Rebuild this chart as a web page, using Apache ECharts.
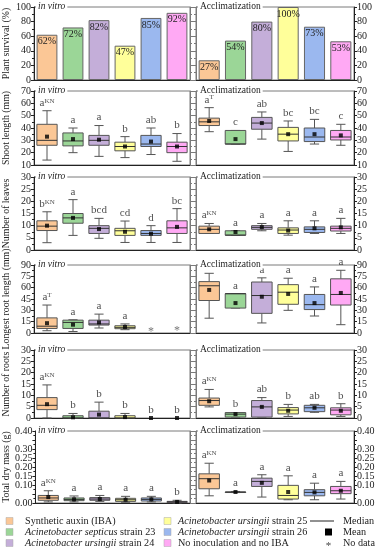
<!DOCTYPE html>
<html><head><meta charset="utf-8">
<script src="https://cdn.jsdelivr.net/npm/echarts@6/dist/echarts.min.js"></script>
<style>html,body{margin:0;padding:0;background:#fff}#c{width:379px;height:550px}</style>
</head><body><div id="c"></div>
<script>
// ---------- DATA ----------
const treatments = ['Synthetic auxin (IBA)', 'Acinetobacter septicus strain 23', 'Acinetobacter ursingii strain 24',
  'Acinetobacter ursingii strain 25', 'Acinetobacter ursingii strain 26', 'No inoculation and no IBA'];
const colors = ['#FBC796', '#9BD697', '#C4AED9', '#FFFF9A', '#9BB8EF', '#FFA9F4'];
const yTitles = ['Plant survival (%)', 'Shoot length (mm)', 'Number of leaves', 'Longest root length (mm)', 'Number of roots', 'Total dry mass (g)'];
const panelTitles = ['in vitro', 'Acclimatization'];

// Plant survival (%)
const survivalInVitro = [62, 72, 82, 47, 85, 92];
const survivalAcclim = [27, 54, 80, 100, 73, 53];

// box data: [min, Q1, median, Q3, max]
const shootInVitroBox = [[14, 26, 30, 43, 54], [20, 25.5, 29.5, 36, 40], [17, 26, 30, 34, 42], [16, 21.5, 25, 28.5, 33], [18.5, 25, 27, 34, 40], [13, 20, 25, 28.5, 35.5]];
const shootInVitroMean = [33, 31, 30.5, 25, 29, 25];
const shootInVitroLetters = ['a^KN', 'a', 'a', 'b', 'ab', 'b'];
const shootAcclimBox = [[37, 42, 45, 48, 56.5], [27, 27, 27, 38, 38], [31, 39, 44, 48.6, 53], [21, 29.5, 35, 40.5, 45.7], [27, 29, 32.7, 40, 47], [26, 30.3, 32.7, 38, 43]];
const shootAcclimMean = [45.7, 31, 44, 35, 35, 34];
const shootAcclimLetters = ['a^T', 'c', 'ab', 'bc', 'bc', 'c'];

const leavesInVitroBox = [[3, 8, 9.8, 12, 15.7], [6, 11, 13.2, 15, 20.7], [4.8, 6.8, 8.9, 10, 13], [3.1, 6, 7.9, 8.9, 11.9], [3.1, 6, 6.8, 8, 10], [3.1, 6.8, 9.1, 12, 17]];
const leavesInVitroMean = [10, 13.2, 8.6, 7.5, 6.7, 9.5];
const leavesInVitroLetters = ['b^KN', 'a', 'bcd', 'cd', 'd', 'bc'];
const leavesAcclimBox = [[6.8, 6.8, 8.5, 9.8, 10.9], [6.1, 6.1, 6.1, 7.9, 7.9], [7.9, 8.5, 9.3, 10, 10.9], [6.1, 6.8, 8.2, 9.1, 12], [6.8, 7.2, 8.5, 9.5, 12], [6.8, 7.8, 8.9, 9.8, 13]];
const leavesAcclimMean = [8.5, 7.4, 9.4, 8, 8.9, 9.3];
const leavesAcclimLetters = ['a^KN', 'a', 'a', 'a', 'a', 'a'];

const rootLenInVitroBox = [[3, 6, 9, 20, 37], [2, 6, 14, 17, 17.5], [6.6, 10.5, 12, 17, 25], [4.4, 5.7, 7.5, 9.6, 12], null, null];
const rootLenInVitroMean = [13, 11, 14, 8, null, null];
const rootLenInVitroLetters = ['a^T', 'a', 'a', 'a', '', ''];
const rootLenInVitroNoData = [null, null, null, null, 6, 7];
const rootLenAcclimBox = [[19.6, 43, 62.5, 68, 79], [33, 33, 52, 52, 52], [13.3, 26, 49.6, 67.5, 73], [30, 38, 54, 64, 72.5], [22.5, 31, 37.5, 51, 61], [11, 37, 51, 71.7, 83]];
const rootLenAcclimMean = [57, 39.6, 48, 51.7, 39.6, 53];
const rootLenAcclimLetters = ['a^T', 'a', 'a', 'a', 'a', 'a'];

const rootsInVitroBox = [[0, 3.7, 5.6, 9, 14.6], [0, 0, 0, 1, 2], [0, 0, 0, 3, 7], [0, 0, 0, 1, 2], null, null];
const rootsInVitroMean = [6.1, 0.3, 1.5, 0.4, 0, 0];
const rootsInVitroLetters = ['a^KN', 'b', 'b', 'b', 'b', 'b'];
const rootsAcclimBox = [[4.9, 5.6, 7.7, 8.8, 12.6], [0.4, 0.4, 1.7, 2.4, 2.4], [0.4, 0.4, 4.9, 7.7, 9], [0.7, 1.8, 3.5, 4.6, 6], [2.5, 2.8, 4.5, 5.6, 6], [0.7, 1.4, 3.5, 4.5, 6.3]];
const rootsAcclimMean = [7.4, 1.7, 4.9, 3.2, 4.5, 3.2];
const rootsAcclimLetters = ['a^KN', 'b', 'ab', 'b', 'ab', 'b'];

const massInVitroBox = [[0.006, 0.015, 0.028, 0.042, 0.068], [0.006, 0.013, 0.02, 0.028, 0.039], [0.009, 0.015, 0.022, 0.03, 0.042], [0.004, 0.009, 0.018, 0.026, 0.037], [0.006, 0.011, 0.02, 0.028, 0.037], [0, 0.002, 0.006, 0.009, 0.015]];
const massInVitroMean = [0.033, 0.02, 0.022, 0.018, 0.02, 0.006];
const massInVitroLetters = ['a^KN', 'a', 'a', 'a', 'a', 'b'];
const massAcclimBox = [[0.04, 0.079, 0.135, 0.162, 0.221], [0.058, 0.061, 0.061, 0.061, 0.064], [0.033, 0.092, 0.12, 0.138, 0.157], [0.018, 0.022, 0.042, 0.098, 0.151], [0.018, 0.04, 0.059, 0.074, 0.11], [0.022, 0.052, 0.068, 0.092, 0.12]];
const massAcclimMean = [0.125, 0.061, 0.112, 0.061, 0.059, 0.068];
const massAcclimLetters = ['a^KN', 'a', 'a', 'a', 'a', 'a'];

const yMins = [0, 10, 0, 0, 0, 0];
const yMaxs = [100, 70, 30, 90, 30, 0.4];
const yIntervals = [20, 10, 5, 15, 5, 0.05];
const yDecimals = [0, 0, 0, 0, 0, 2];

// ---------- LAYOUT ----------
const FONT = 'Liberation Serif';
const rowTops = [7, 91, 177, 265, 350, 431];
const rowBottoms = [80, 165, 250, 333, 418, 503];
const colLeft = [33, 196];
const colWidth = [157, 158];

const rows = [
  { kind: 'bar', L: { bar: survivalInVitro }, R: { bar: survivalAcclim } },
  { kind: 'box', L: { box: shootInVitroBox, mean: shootInVitroMean, letters: shootInVitroLetters }, R: { box: shootAcclimBox, mean: shootAcclimMean, letters: shootAcclimLetters } },
  { kind: 'box', L: { box: leavesInVitroBox, mean: leavesInVitroMean, letters: leavesInVitroLetters }, R: { box: leavesAcclimBox, mean: leavesAcclimMean, letters: leavesAcclimLetters } },
  { kind: 'box', L: { box: rootLenInVitroBox, mean: rootLenInVitroMean, letters: rootLenInVitroLetters, nodata: rootLenInVitroNoData }, R: { box: rootLenAcclimBox, mean: rootLenAcclimMean, letters: rootLenAcclimLetters } },
  { kind: 'box', L: { box: rootsInVitroBox, mean: rootsInVitroMean, letters: rootsInVitroLetters }, R: { box: rootsAcclimBox, mean: rootsAcclimMean, letters: rootsAcclimLetters } },
  { kind: 'box', L: { box: massInVitroBox, mean: massInVitroMean, letters: massInVitroLetters }, R: { box: massAcclimBox, mean: massAcclimMean, letters: massAcclimLetters } }
];

const grid = [], xAxis = [], yAxis = [], series = [], title = [];
const mirrorAxes = [];
const catIdx = treatments.map((t, i) => i);

function renderBox(params, api) {
  const idx = api.value(0);
  const pts = [1, 2, 3, 4, 5].map(k => api.coord([idx, api.value(k)]));
  const x = pts[0][0];
  const w = api.size([1, 0])[0] * 0.78;
  const cw = w * 0.45;
  const stroke = '#555';
  const yMin = pts[0][1], yQ1 = pts[1][1], yMed = pts[2][1], yQ3 = pts[3][1], yMax = pts[4][1];
  const ls = { stroke: stroke, lineWidth: 1, fill: null };
  return {
    type: 'group', children: [
      { type: 'line', shape: { x1: x, y1: yMax, x2: x, y2: yQ3 }, style: ls },
      { type: 'line', shape: { x1: x, y1: yQ1, x2: x, y2: yMin }, style: ls },
      { type: 'line', shape: { x1: x - cw / 2, y1: yMax, x2: x + cw / 2, y2: yMax }, style: ls },
      { type: 'line', shape: { x1: x - cw / 2, y1: yMin, x2: x + cw / 2, y2: yMin }, style: ls },
      { type: 'rect', shape: { x: x - w / 2, y: yQ3, width: w, height: Math.max(yQ1 - yQ3, 0.5) }, style: { fill: colors[idx], stroke: stroke, lineWidth: 1 } },
      { type: 'line', shape: { x1: x - w / 2, y1: yMed, x2: x + w / 2, y2: yMed }, style: { stroke: '#333', lineWidth: 1 } }
    ]
  };
}

function letterFmt(p) {
  const t = p.value[2];
  if (!t) return '';
  const parts = t.split('^');
  return parts[1] ? '{b|' + parts[0] + '}{s|' + parts[1] + '}' : '{b|' + parts[0] + '}';
}

rows.forEach((row, r) => {
  [row.L, row.R].forEach((d, s) => {
    const i = r * 2 + s;
    grid.push({ left: colLeft[s], width: colWidth[s], top: rowTops[r], height: rowBottoms[r] - rowTops[r], show: true, borderColor: '#7a7a7a', borderWidth: 1 });
    xAxis.push({ type: 'category', gridIndex: i, data: catIdx, axisLabel: { show: false }, axisTick: { show: false }, axisLine: { lineStyle: { color: '#222', width: 1 } }, splitLine: { show: false } });
    const dec = yDecimals[r];
    const ax = {
      type: 'value', gridIndex: i, min: yMins[r], max: yMaxs[r], interval: yIntervals[r],
      position: s === 0 ? 'left' : 'right',
      axisLine: { show: true, lineStyle: { color: '#222', width: 1 } },
      axisTick: { show: true, length: 3, lineStyle: { color: '#222' } },
      minorTick: { show: true, splitNumber: 2, length: 2, lineStyle: { color: '#222' } },
      splitLine: { show: false },
      axisLabel: { fontFamily: FONT, fontSize: 10, color: '#222', margin: 3, showMinLabel: true, showMaxLabel: true, formatter: v => Number(v).toFixed(dec) }
    };
    if (s === 0) {
      ax.name = yTitles[r]; ax.nameLocation = 'middle'; ax.nameGap = 23;
      ax.nameTextStyle = { fontFamily: FONT, fontSize: 9.8, color: '#222' };
    }
    yAxis.push(ax);
    mirrorAxes.push({
      type: 'value', gridIndex: i, min: yMins[r], max: yMaxs[r], interval: yIntervals[r],
      position: s === 0 ? 'right' : 'left',
      axisLine: { show: true, lineStyle: { color: '#7a7a7a', width: 1 } },
      axisTick: { show: true, length: 3, lineStyle: { color: '#7a7a7a' } },
      minorTick: { show: true, splitNumber: 2, length: 2, lineStyle: { color: '#7a7a7a' } },
      splitLine: { show: false },
      axisLabel: { show: false, color: 'rgba(0,0,0,0)', formatter: () => '' }
    });
    title.push({
      text: panelTitles[s], left: s === 0 ? 36 : 198, top: rowTops[r] - 6,
      backgroundColor: '#fff', padding: [0, 2, 0, 2],
      textStyle: { fontFamily: FONT, fontSize: 9.5, fontWeight: 'normal', fontStyle: s === 0 ? 'italic' : 'normal', color: '#222' }
    });

    if (row.kind === 'bar') {
      series.push({
        type: 'bar', xAxisIndex: i, yAxisIndex: i, barWidth: '80%', silent: true,
        data: d.bar.map((v, k) => ({ value: v, itemStyle: { color: colors[k] } })),
        itemStyle: { borderColor: '#666', borderWidth: 1 },
        label: { show: true, position: 'insideTop', distance: 2, formatter: '{c}%', fontFamily: FONT, fontSize: 10, color: '#222' }
      });
    } else {
      const boxData = [];
      d.box.forEach((b, k) => { if (b) boxData.push([k].concat(b)); });
      series.push({ type: 'custom', xAxisIndex: i, yAxisIndex: i, silent: true, renderItem: renderBox, data: boxData, encode: { x: 0, y: [1, 2, 3, 4, 5] } });
      const meanData = [];
      d.mean.forEach((m, k) => { if (m !== null) meanData.push([k, m]); });
      series.push({ type: 'scatter', xAxisIndex: i, yAxisIndex: i, silent: true, symbol: 'rect', symbolSize: 4, itemStyle: { color: '#000' }, data: meanData, z: 5 });
      const letData = d.letters.map((t, k) => [k, d.box[k] ? d.box[k][4] : 0, t]);
      series.push({
        type: 'scatter', xAxisIndex: i, yAxisIndex: i, silent: true, symbolSize: 1,
        itemStyle: { color: 'rgba(0,0,0,0)' }, data: letData,
        label: {
          show: true, position: 'top', distance: 2, formatter: letterFmt,
          rich: {
            b: { fontFamily: FONT, fontSize: 11, color: '#222' },
            s: { fontFamily: FONT, fontSize: 7, color: '#222', verticalAlign: 'top' }
          }
        }
      });
      if (d.nodata) {
        const nd = [];
        d.nodata.forEach((v, k) => { if (v !== null) nd.push([k, v]); });
        series.push({
          type: 'scatter', xAxisIndex: i, yAxisIndex: i, silent: true, symbolSize: 1,
          itemStyle: { color: 'rgba(0,0,0,0)' }, data: nd,
          label: { show: true, position: 'inside', offset: [0, 3], formatter: '*', fontFamily: FONT, fontSize: 12, color: '#555' }
        });
      }
    }
  });
});

// ---------- LEGEND (graphic) ----------
const legendRows = [521, 532, 543];
const legendText = [
  'Synthetic auxin (IBA)',
  '{i|Acinetobacter septicus} strain 23',
  '{i|Acinetobacter ursingii} strain 24',
  '{i|Acinetobacter ursingii} strain 25',
  '{i|Acinetobacter ursingii} strain 26',
  'No inoculation and no IBA'
];
const LFS = 10.2;
const graphic = [];
const richLeg = { i: { fontFamily: FONT, fontSize: LFS, fontStyle: 'italic', fill: '#222' } };
legendText.forEach((t, k) => {
  const col = k < 3 ? 0 : 1;
  const y = legendRows[k % 3];
  const sx = col === 0 ? 6 : 164;
  const tx = col === 0 ? 25 : 178;
  graphic.push({ type: 'rect', shape: { x: sx, y: y - 3.5, width: 7, height: 7 }, style: { fill: colors[k], stroke: '#aaa', lineWidth: 0.5 } });
  graphic.push({ type: 'text', x: tx, y: y, style: { text: t, fontFamily: FONT, fontSize: LFS, fill: '#222', verticalAlign: 'middle', rich: richLeg } });
});
graphic.push({ type: 'line', shape: { x1: 310, y1: legendRows[0], x2: 334, y2: legendRows[0] }, style: { stroke: '#222', lineWidth: 1 } });
graphic.push({ type: 'rect', shape: { x: 325, y: legendRows[1] - 3.5, width: 7, height: 7 }, style: { fill: '#000' } });
graphic.push({ type: 'text', x: 328.5, y: legendRows[2] + 3, style: { text: '*', fontFamily: FONT, fontSize: 11, fill: '#444', align: 'center', verticalAlign: 'middle' } });
['Median', 'Mean', 'No data'].forEach((t, k) => {
  graphic.push({ type: 'text', x: 343, y: legendRows[k], style: { text: t, fontFamily: FONT, fontSize: LFS, fill: '#222', verticalAlign: 'middle' } });
});

const chart = echarts.init(document.getElementById('c'), null, { renderer: 'canvas' });
chart.setOption({
  animation: false,
  backgroundColor: '#fff',
  title: title,
  grid: grid,
  xAxis: xAxis,
  yAxis: yAxis.concat(mirrorAxes),
  series: series,
  graphic: graphic
});
</script></body></html>
